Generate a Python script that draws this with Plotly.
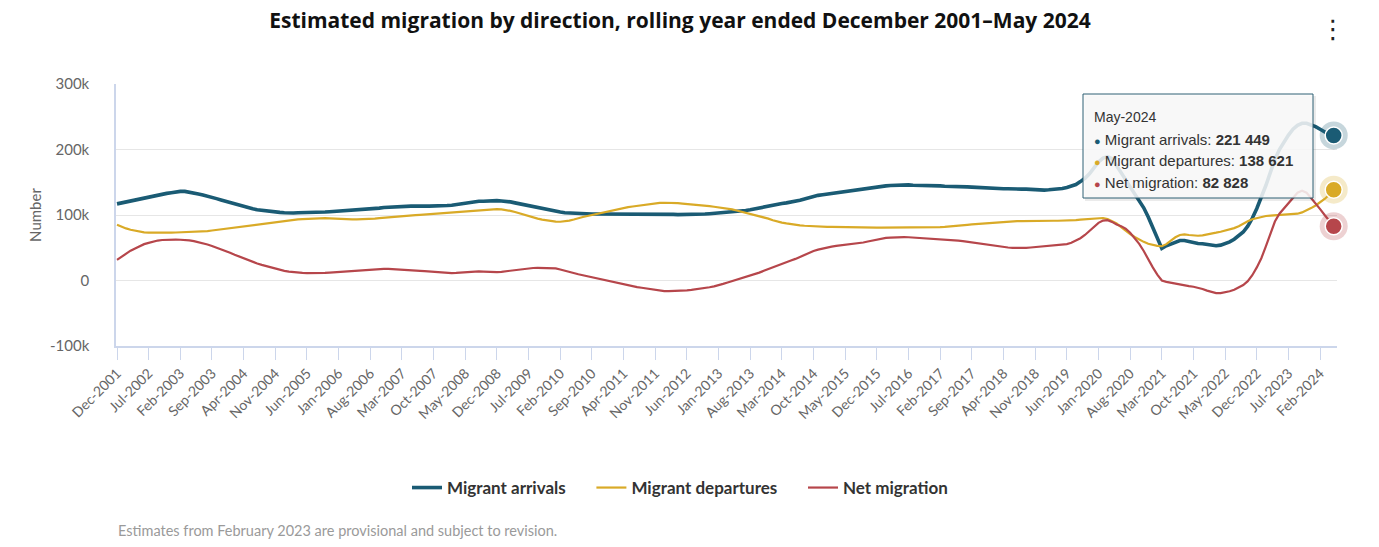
import plotly.graph_objects as go
import pandas as pd

# ---------------- data (thousands) ----------------
months = [d.strftime("%b-%Y") for d in pd.date_range("2001-12-01", "2024-05-01", freq="MS")]

arrivals_k = [117,
    118.5, 120, 122, 123.5, 125, 126.5, 128, 129.5, 131, 132, 133, 134,
    135.5, 136, 136, 135, 133.5, 132, 130.5, 129, 127, 125, 123, 121,
    119, 116.5, 114.5, 113, 111, 109.5, 108, 107, 106, 105, 104.5, 104,
    103.5, 103, 103, 103.5, 103.5, 104, 104, 104, 104.5, 104.5, 105, 105.5,
    105.5, 106, 106, 106.5, 107, 107.5, 108, 109, 110, 110.5, 111.5, 112,
    112.5, 113, 113, 113, 113.5, 113.5, 114, 113.5, 113.5, 113.5, 114, 114,
    114.5, 115, 116, 117, 118.5, 119.5, 120.5, 121, 121, 121.5, 121.5, 122,
    121.5, 121, 120, 118.5, 117, 115.5, 114, 112.5, 111, 109.5, 108, 106.5,
    105.5, 104.5, 103.5, 103, 102.5, 102, 101.5, 101.5, 101.5, 101.5, 101.5, 101.5,
    101.5, 101.5, 102, 102, 101.5, 101.5, 101.5, 101, 101, 101, 101.5, 101.5,
    101, 101, 101, 100.5, 100.5, 101, 101, 101, 101.5, 101.5, 102, 102.5,
    103, 103.5, 104, 104.5, 105, 106, 107, 108, 109.5, 111, 112.5, 114,
    115, 116, 117.5, 118.5, 119.5, 120.5, 122.5, 124.5, 126.5, 128.5, 130, 131,
    132, 133, 134.5, 135.5, 136.5, 137, 137.5, 138.5, 139.5, 140.5, 142, 143,
    143.5, 144.5, 145, 145.5, 146, 146, 146, 145.5, 145.5, 145, 145, 144.5,
    144.5, 144.5, 144, 144, 143.5, 143.5, 143.5, 143, 142.5, 142, 141.5, 141.5,
    141, 141, 140.5, 140, 140, 139.5, 139.5, 139.5, 139.5, 139, 138.5, 138,
    138, 138.5, 139, 139.5, 140.5, 142, 144, 146.5, 151, 156, 163, 172,
    181, 187, 189, 186, 176, 165, 154, 143, 133, 123, 111, 97,
    82, 66, 49, 53, 56, 59, 61, 61, 59.5, 57.5, 56.5, 56,
    55, 54, 53, 54, 56.5, 59, 63, 68, 74, 83, 95, 110,
    126, 145, 165, 185, 200, 212, 222, 231, 237, 240, 240, 237.5,
    235, 231, 226.5, 223, 221.449]

departures_k = [85,
    82, 79.5, 77.5, 76, 74.5, 73.5, 73, 72.8, 72.7, 72.7, 72.8, 73,
    73.3, 73.5, 73.8, 74, 74.3, 74.6, 75, 75.5, 76.3, 77.2, 78, 79,
    80, 81.2, 82.2, 83.2, 84.2, 85.2, 86.2, 87, 87.8, 88.5, 89.2, 90,
    90.8, 91.6, 92.4, 93.2, 93.8, 94.3, 94.8, 95.2, 95.4, 95.3, 95, 94.5,
    94, 93.5, 93.3, 93.2, 93.2, 93.3, 93.5, 94, 94.6, 95.3, 96, 96.7,
    97.3, 97.8, 98.3, 98.7, 99.2, 99.8, 100.3, 100.8, 101.3, 101.8, 102.2, 102.6,
    103.2, 103.8, 104.4, 105, 105.6, 106.2, 106.8, 107.4, 108, 108.5, 108.9, 109,
    108.7, 107.8, 106.3, 104.5, 102.3, 100, 97.8, 96, 94.5, 93, 91.8, 90.8,
    89.8, 89.7, 90.3, 91.5, 93.2, 95.5, 97, 98.5, 100, 101.5, 103, 104.8,
    106.5, 108.2, 109.8, 111, 112, 113, 114, 115, 116, 117, 117.8, 118.4,
    118.7, 118.8, 118.5, 118, 117.5, 117, 116.3, 115.7, 115, 114.3, 113.5, 112.6,
    111.6, 110.8, 110, 108.5, 106.8, 105, 103.5, 102, 100.5, 98.5, 96.5, 94.5,
    92, 90, 88.4, 87.2, 86, 85, 84.2, 83.6, 83.1, 82.7, 82.4, 82.2,
    82, 81.8, 81.6, 81.5, 81.3, 81.2, 81.1, 81, 81, 80.9, 80.9, 80.8,
    80.8, 80.8, 80.8, 80.8, 80.7, 80.7, 80.7, 80.8, 80.8, 80.8, 80.9, 81.1,
    81.3, 81.6, 82, 82.4, 82.9, 83.5, 84.2, 84.9, 85.6, 86.2, 86.8, 87.4,
    87.9, 88.4, 88.9, 89.3, 89.7, 90.1, 90.5, 90.8, 91, 91.1, 91.2, 91.3,
    91.3, 91.3, 91.2, 91.2, 91.3, 91.5, 91.8, 92.3, 92.9, 93.6, 94.4, 95.1,
    95.5, 95.4, 94, 91, 87, 81.5, 76, 71, 66.5, 62.5, 59, 56,
    54, 52.8, 52.3, 55.5, 61, 66, 69.5, 70.5, 69.5, 68.5, 68.3, 69,
    70, 71.5, 73, 74.5, 76, 78, 80, 83, 87, 90.5, 93.5, 95.5,
    97, 98.5, 99, 99.5, 100, 100.3, 100.7, 101.2, 102, 104, 107, 110.5,
    114.5, 119, 124.5, 131, 138.621]

net_k = [31.5,
    36.5, 41.5, 45.5, 49, 52.5, 55.5, 57.5, 59.5, 61, 61.8, 62.2, 62.4,
    62.3, 62.2, 62, 61.3, 60.2, 58.8, 57, 55, 52.8, 50.5, 48, 45.4,
    42.5, 39.4, 36.5, 33.8, 31.2, 28.6, 26, 23.8, 21.8, 19.8, 17.8, 16,
    14.8, 13.6, 12.6, 12, 11.6, 11.3, 11.1, 11, 11.2, 11.5, 11.9, 12.4,
    13, 13.8, 14.7, 15.3, 15.8, 16.2, 16.6, 17, 17.4, 17.6, 17.8, 17.7,
    17.4, 17, 16.5, 16, 15.4, 15, 14.6, 14.2, 13.6, 13, 12.3, 11.7,
    11.3, 11.2, 11.5, 12, 12.7, 13.4, 13.8, 13.8, 13.5, 13, 12.7, 12.8,
    13.3, 14.2, 15.3, 16.4, 17.2, 18, 18.6, 19.1, 19.3, 19.4, 19.4, 19.3,
    18.6, 16.8, 14.8, 12.8, 11, 9.5, 8, 6.5, 5, 3.6, 2, 0.3,
    -1.5, -3.2, -4.8, -6.3, -7.6, -8.8, -10, -11.1, -12.3, -13.5, -14.6, -15.5,
    -16.1, -16.3, -16.2, -16, -15.5, -15, -14.4, -13.6, -12.6, -11.5, -10.3, -9,
    -7.6, -5.2, -3, -1, 1.2, 3.3, 5.4, 7.4, 9.5, 12, 14.8, 17.6,
    20.4, 23.2, 25.8, 28.2, 30.6, 33, 36.2, 39.4, 42.4, 45, 47.2, 49,
    50.5, 51.8, 52.8, 53.6, 54.4, 55, 55.7, 56.6, 58, 59.6, 61.2, 62.7,
    64, 65, 65.6, 66, 66.2, 66.2, 66, 65.6, 65.1, 64.6, 64, 63.6,
    63.3, 63, 62.6, 62.2, 61.6, 60.8, 60, 59, 57.8, 56.6, 55.4, 54.3,
    53.5, 52.6, 51.8, 51, 50.4, 49.9, 49.6, 49.6, 49.8, 50.4, 51.1, 51.8,
    52.3, 52.6, 53, 53.5, 54.4, 55.6, 57.5, 60.5, 64.5, 69.5, 75.5, 82,
    88, 91.5, 92.2, 89.5, 85.5, 83, 79, 73, 65, 56, 45, 32,
    20, 9, 0, -2, -3.5, -4.5, -6, -7.5, -8.5, -9.5, -11, -13,
    -15.5, -18, -19.3, -19.3, -18.3, -16.5, -14, -11, -7, -1, 8, 20,
    34, 52, 72, 90, 102, 110, 118, 127, 134, 137, 134, 126,
    118, 109, 100, 91, 82.828]

tick_labels = ["Dec-2001", "Jul-2002", "Feb-2003", "Sep-2003", "Apr-2004", "Nov-2004",
    "Jun-2005", "Jan-2006", "Aug-2006", "Mar-2007", "Oct-2007", "May-2008", "Dec-2008",
    "Jul-2009", "Feb-2010", "Sep-2010", "Apr-2011", "Nov-2011", "Jun-2012", "Jan-2013",
    "Aug-2013", "Mar-2014", "Oct-2014", "May-2015", "Dec-2015", "Jul-2016", "Feb-2017",
    "Sep-2017", "Apr-2018", "Nov-2018", "Jun-2019", "Jan-2020", "Aug-2020", "Mar-2021",
    "Oct-2021", "May-2022", "Dec-2022", "Jul-2023", "Feb-2024"]

y_ticks = [-100000, 0, 100000, 200000, 300000]
y_tick_labels = ["-100k", "0", "100k", "200k", "300k"]

series = [
    ("Migrant arrivals", arrivals_k, "#1a5b74", 3.6, "rgba(26,91,116,0.25)"),
    ("Migrant departures", departures_k, "#d9aa27", 2.2, "rgba(217,170,39,0.25)"),
    ("Net migration", net_k, "#b6464b", 2.2, "rgba(182,70,75,0.25)"),
]
for _, v, _, _, _ in series:
    assert len(v) == len(months), len(v)

FONT = "Lato"
NBSP = "\u00a0"
fig = go.Figure()
for k, (name, vals, col, w, halo) in enumerate(series):
    y = [v * 1000 for v in vals]
    label = name + (NBSP * 5 if k < 2 else "")
    fig.add_trace(go.Scatter(x=months, y=y, mode="lines", name=label,
                             line=dict(color=col, width=w), hoverinfo="skip"))
for name, vals, col, w, halo in series:
    fig.add_trace(go.Scatter(x=[months[-1]], y=[vals[-1] * 1000], mode="markers",
                             marker=dict(size=28, color=halo), showlegend=False,
                             cliponaxis=False, hoverinfo="skip"))
    fig.add_trace(go.Scatter(x=[months[-1]], y=[vals[-1] * 1000], mode="markers",
                             marker=dict(size=17, color=col, line=dict(color="white", width=1.5)),
                             showlegend=False, cliponaxis=False, hoverinfo="skip"))

W, H = 1379, 547
L, R, T, B = 116, 1337, 84, 346
def px(x):
    return (x - L) / (R - L)
def py(y):
    return (B - y) / (B - T)

shapes = [
    dict(type="rect", xref="paper", yref="paper", x0=px(1085), x1=px(1316), y0=py(201), y1=py(96),
         fillcolor="rgba(0,0,0,0.08)", line=dict(width=0), layer="above"),
    dict(type="rect", xref="paper", yref="paper", x0=px(1083), x1=px(1313), y0=py(198), y1=py(94),
         fillcolor="rgba(250,250,250,0.86)", line=dict(color="#2f6175", width=1), layer="above"),
]

ann = []
ann.append(dict(text="Estimates from February 2023 are provisional and subject to revision.",
                xref="paper", yref="paper", x=0, y=py(530), xanchor="left", yanchor="middle",
                showarrow=False, font=dict(family=FONT, size=14.5, color="#9a9a9a")))
ann.append(dict(text="⋮", xref="paper", yref="paper", x=px(1333), y=py(29), xanchor="center",
                yanchor="middle", showarrow=False, font=dict(family="DejaVu Sans", size=26, color="#222")))
TT = "Liberation Sans"
ann.append(dict(text=months[-1], xref="paper", yref="paper", x=px(1092), y=py(117),
                xanchor="left", yanchor="middle", showarrow=False,
                font=dict(family=TT, size=14, color="#333")))
for k, (name, vals, col, w, halo) in enumerate(series):
    val = f"{int(round(vals[-1] * 1000)):,}".replace(",", " ")
    ann.append(dict(text=f"<span style='color:{col};font-size:11px'>●</span> {name}: <b>{val}</b>",
                    xref="paper", yref="paper", x=px(1092), y=py(139 + 21.5 * k),
                    xanchor="left", yanchor="middle", showarrow=False,
                    font=dict(family=TT, size=15, color="#333")))

fig.update_layout(
    width=W, height=H, autosize=False,
    margin=dict(l=L, r=W - R, t=T, b=H - B, pad=0),
    paper_bgcolor="white", plot_bgcolor="white",
    title=dict(text="<b>Estimated migration by direction, rolling year ended December 2001–May 2024</b>",
               x=680 / W, xanchor="center", xref="container", y=1 - 21 / H, yanchor="middle",
               yref="container", font=dict(family="Open Sans", size=21, color="#111")),
    showlegend=True,
    legend=dict(orientation="h", xref="container", yref="container", x=680 / W, xanchor="center",
                y=1 - 488 / H, yanchor="middle", font=dict(family=FONT, size=17, color="#333", weight="bold"),
                itemwidth=30, traceorder="normal"),
    xaxis=dict(type="category", categoryorder="array", categoryarray=months,
               range=[-0.22, 269.73], tickmode="array", tickvals=tick_labels, ticktext=tick_labels,
               tickangle=-45, ticks="outside", ticklen=12, tickcolor="#ccd6eb", tickwidth=1,
               showline=True, linecolor="#ccd6eb", linewidth=1.5, showgrid=False, zeroline=False,
               tickfont=dict(family=FONT, size=14, color="#666")),
    yaxis=dict(range=[-100000, 300000], tickmode="array", tickvals=y_ticks, ticktext=y_tick_labels,
               showgrid=True, gridcolor="#e6e6e6", gridwidth=1, zeroline=False,
               showline=True, linecolor="#ccd6eb", linewidth=1.5, ticks="", ticklabelstandoff=22,
               tickfont=dict(family=FONT, size=15, color="#666"),
               title=dict(text="Number", standoff=5, font=dict(family=FONT, size=15, color="#666"))),
    shapes=shapes, annotations=ann, hovermode=False,
)
fig.write_html("out.html")
